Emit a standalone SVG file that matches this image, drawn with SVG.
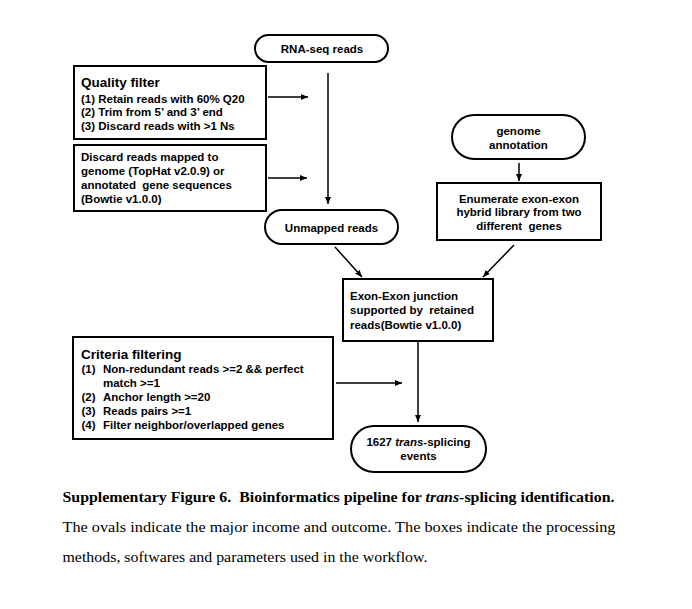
<svg xmlns="http://www.w3.org/2000/svg" width="692" height="609" viewBox="0 0 692 609">
<style>
.box{fill:#fff;stroke:#000;stroke-width:2}
.t{font-family:"Liberation Sans",Arial,sans-serif;font-weight:bold;font-size:11.5px;fill:#000}
.h{font-size:13.5px}
.c{text-anchor:middle}
.cap{font-family:"Liberation Serif","Times New Roman",serif;font-size:15.5px;fill:#000}
.ln{stroke:#000;stroke-width:1.5;fill:none}
</style>
<defs>
<marker id="ah" markerUnits="userSpaceOnUse" markerWidth="8" markerHeight="8" viewBox="0 0 8 8" refX="7" refY="4" orient="auto">
<path d="M0,1 L7,4 L0,7 Z" fill="#000"/>
</marker>
</defs>
<rect width="692" height="609" fill="#fff"/>
<g id="connectors">
<line class="ln" x1="268" y1="97" x2="308" y2="97" marker-end="url(#ah)"/>
<line class="ln" x1="268" y1="178" x2="307" y2="178" marker-end="url(#ah)"/>
<line class="ln" x1="328" y1="73" x2="328" y2="204" marker-end="url(#ah)"/>
<line class="ln" x1="519" y1="163" x2="519" y2="181" marker-end="url(#ah)"/>
<line class="ln" x1="335" y1="247" x2="362" y2="277" marker-end="url(#ah)"/>
<line class="ln" x1="514" y1="245" x2="483" y2="277" marker-end="url(#ah)"/>
<line class="ln" x1="418" y1="341" x2="418" y2="422" marker-end="url(#ah)"/>
<line class="ln" x1="336" y1="383" x2="402" y2="383" marker-end="url(#ah)"/>
</g>
<g id="rnaseq">
<rect class="box" x="255" y="35" width="133" height="27" rx="13.5"/>
<text class="t c" x="322" y="53">RNA-seq reads</text>
</g>
<g id="quality">
<rect class="box" x="74" y="66" width="192" height="73"/>
<text class="t h" x="81" y="86.5">Quality filter</text>
<text class="t" x="81" y="102.5">(1) Retain reads with 60% Q20</text>
<text class="t" x="81" y="116">(2) Trim from 5’ and 3’ end</text>
<text class="t" x="81" y="129.5">(3) Discard reads with &gt;1 Ns</text>
</g>
<g id="discard">
<rect class="box" x="74" y="145" width="192" height="66"/>
<text class="t" x="81" y="160.5">Discard reads mapped to</text>
<text class="t" x="81" y="174.5">genome (TopHat v2.0.9) or</text>
<text class="t" x="81" y="188.5" xml:space="preserve">annotated  gene sequences</text>
<text class="t" x="81" y="202.5">(Bowtie v1.0.0)</text>
</g>
<g id="unmapped">
<rect class="box" x="265" y="210" width="133" height="34" rx="17"/>
<text class="t c" x="331.5" y="231.5">Unmapped reads</text>
</g>
<g id="genome">
<rect class="box" x="452" y="115" width="133" height="44" rx="22"/>
<text class="t c" x="518.5" y="135">genome</text>
<text class="t c" x="518.5" y="149">annotation</text>
</g>
<g id="enumerate">
<rect class="box" x="437" y="183" width="164" height="57"/>
<text class="t c" x="519" y="202.5">Enumerate exon-exon</text>
<text class="t c" x="519" y="216">hybrid library from two</text>
<text class="t c" x="519" y="229.5" xml:space="preserve">different  genes</text>
</g>
<g id="junction">
<rect class="box" x="343" y="279" width="150" height="62"/>
<text class="t" x="350" y="299.5">Exon-Exon junction</text>
<text class="t" x="350" y="314" xml:space="preserve">supported by  retained</text>
<text class="t" x="350" y="328.5">reads(Bowtie v1.0.0)</text>
</g>
<g id="criteria">
<rect class="box" x="73" y="337" width="260" height="102"/>
<text class="t h" x="81" y="358.5">Criteria filtering</text>
<text class="t" x="81.5" y="372.5">(1)</text>
<text class="t" x="103" y="372.5">Non-redundant reads &gt;=2 &amp;&amp; perfect</text>
<text class="t" x="103" y="386.5">match &gt;=1</text>
<text class="t" x="81.5" y="401">(2)</text>
<text class="t" x="103" y="401">Anchor length &gt;=20</text>
<text class="t" x="81.5" y="415">(3)</text>
<text class="t" x="103" y="415">Reads pairs &gt;=1</text>
<text class="t" x="81.5" y="429">(4)</text>
<text class="t" x="103" y="429">Filter neighbor/overlapped genes</text>
</g>
<g id="events">
<rect class="box" x="351" y="426" width="135" height="46" rx="23"/>
<text class="t c" x="418.5" y="445.5">1627 <tspan font-style="italic">trans</tspan>-splicing</text>
<text class="t c" x="418.5" y="460">events</text>
</g>
<g id="caption">
<text class="cap" x="62.5" y="502" font-weight="bold" textLength="552" lengthAdjust="spacingAndGlyphs" xml:space="preserve">Supplementary Figure 6.  Bioinformatics pipeline for <tspan font-style="italic">trans</tspan>-splicing identification.</text>
<text class="cap" x="62.5" y="532" textLength="553" lengthAdjust="spacingAndGlyphs">The ovals indicate the major income and outcome. The boxes indicate the processing</text>
<text class="cap" x="62.5" y="562" textLength="365" lengthAdjust="spacingAndGlyphs">methods, softwares and parameters used in the workflow.</text>
</g>
</svg>
